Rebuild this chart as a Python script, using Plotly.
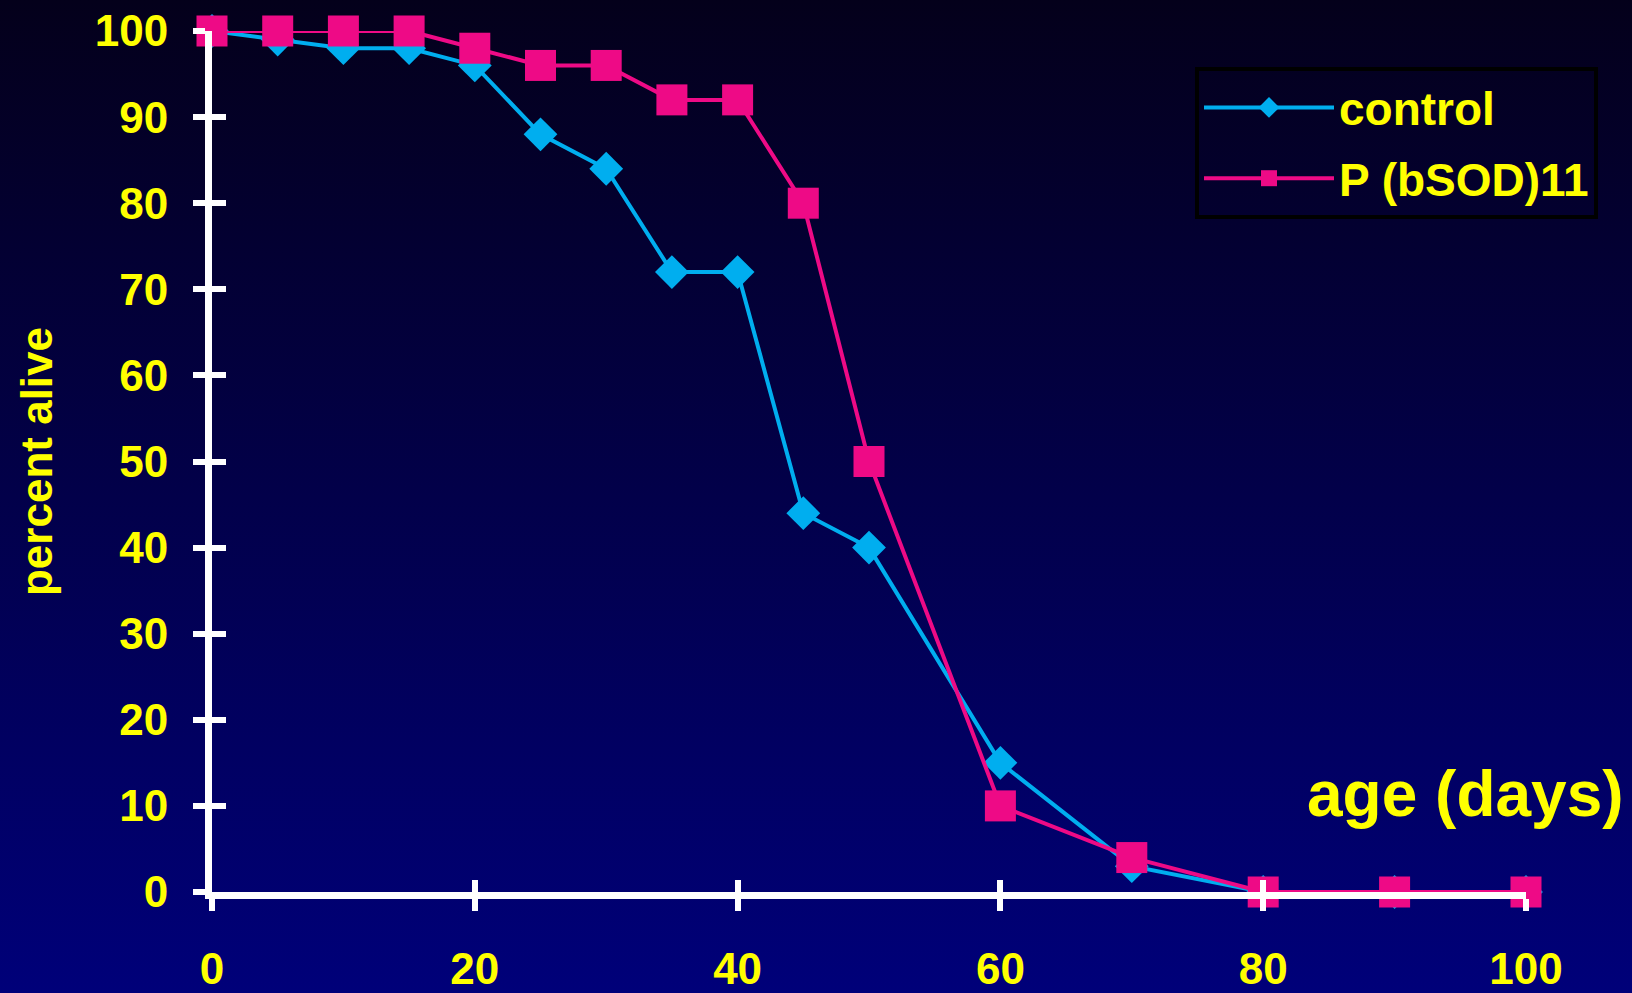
import base64
import plotly.graph_objects as go

# Survival data: percent of flies alive by age
age_days = [0, 5, 10, 15, 20, 25, 30, 35, 40, 45, 50, 60, 70, 80, 90, 100]
control = [100, 99, 98, 98, 96, 88, 84, 72, 72, 44, 40, 15, 3, 0, 0, 0]
p_bsod11 = [100, 100, 100, 100, 98, 96, 96, 92, 92, 80, 50, 10, 4, 0, 0, 0]

x_ticks = [0, 20, 40, 60, 80, 100]
y_ticks = [0, 10, 20, 30, 40, 50, 60, 70, 80, 90, 100]

W, H = 1632, 993
M_L, M_R, M_T, M_B = 212, 106, 31, 101
PW, PH = W - M_L - M_R, H - M_T - M_B

YELLOW = "#FFFF00"
CYAN = "#00AEEF"
PINK = "#EE0A86"
FONT = "Liberation Sans, Arial, sans-serif"

fig = go.Figure()

fig.add_trace(go.Scatter(
    x=age_days, y=control, name="control", mode="lines+markers",
    line=dict(color=CYAN, width=4),
    marker=dict(symbol="diamond", size=26, color=CYAN),
    cliponaxis=False, legendgroup="a",
))
fig.add_trace(go.Scatter(
    x=age_days, y=p_bsod11, name="P (bSOD)11", mode="lines+markers",
    line=dict(color=PINK, width=4),
    marker=dict(symbol="square", size=31, color=PINK),
    cliponaxis=False, legendgroup="b",
))
# empty trace that carries the overlay axes (inner half of the cross ticks)
fig.add_trace(go.Scatter(x=[], y=[], xaxis="x2", yaxis="y2", showlegend=False))

# dark-to-navy vertical gradient behind the whole figure
svg = (
    "<svg xmlns='http://www.w3.org/2000/svg' width='100' height='100' "
    "viewBox='0 0 100 100' preserveAspectRatio='none'>"
    "<defs><linearGradient id='g' x1='0' y1='0' x2='0' y2='1'>"
    "<stop offset='0' stop-color='#04001A'/>"
    "<stop offset='1' stop-color='#00007A'/>"
    "</linearGradient></defs>"
    "<rect width='100' height='100' fill='url(#g)'/></svg>"
)
bg_src = "data:image/svg+xml;base64," + base64.b64encode(svg.encode()).decode()
fig.add_layout_image(
    source=bg_src, xref="paper", yref="paper",
    x=-M_L / PW - 0.01, y=1 + M_T / PH + 0.01,
    sizex=W / PW + 0.02, sizey=H / PH + 0.02,
    xanchor="left", yanchor="top", sizing="stretch", layer="below",
)

tick_font = dict(family=FONT, size=44, color=YELLOW, weight="bold")

fig.update_layout(
    width=W, height=H,
    margin=dict(l=M_L, r=M_R, t=M_T, b=M_B, autoexpand=False),
    paper_bgcolor="#00004A",
    plot_bgcolor="rgba(0,0,0,0)",
    showlegend=True,
    legend=dict(
        x=(1195 - M_L) / PW, y=1 - (67 - M_T) / PH,
        xanchor="left", yanchor="top",
        bgcolor="rgba(0,0,0,0)", bordercolor="#000000", borderwidth=4,
        font=dict(family=FONT, size=46, color=YELLOW, weight="bold"),
        itemwidth=130, tracegroupgap=8,
    ),
    xaxis=dict(
        range=[0, 100], tickvals=x_ticks, ticktext=[str(v) for v in x_ticks],
        showgrid=False, zeroline=False, automargin=False,
        showline=True, linecolor="white", linewidth=7,
        ticks="outside", ticklen=12, tickwidth=6, tickcolor="white",
        ticklabelstandoff=20, tickfont=tick_font,
    ),
    yaxis=dict(
        range=[0, 100], tickvals=y_ticks, ticktext=[str(v) for v in y_ticks],
        showgrid=False, zeroline=False, automargin=False,
        showline=True, linecolor="white", linewidth=7,
        ticks="outside", ticklen=12, tickwidth=6, tickcolor="white",
        ticklabelstandoff=16, tickfont=tick_font,
        title=dict(text="percent alive", standoff=31,
                   font=dict(family=FONT, size=44, color=YELLOW, weight="bold")),
    ),
    xaxis2=dict(
        range=[0, 100], tickvals=x_ticks, overlaying="x", anchor="y", side="bottom",
        showgrid=False, zeroline=False, showline=False, showticklabels=False,
        automargin=False,
        ticks="inside", ticklen=12, tickwidth=6, tickcolor="white",
    ),
    yaxis2=dict(
        range=[0, 100], tickvals=y_ticks, overlaying="y", anchor="x", side="left",
        showgrid=False, zeroline=False, showline=False, showticklabels=False,
        automargin=False,
        ticks="inside", ticklen=14, tickwidth=6, tickcolor="white",
    ),
    annotations=[dict(
        text="age (days)", xref="paper", yref="paper",
        x=(1626 - M_L) / PW, y=(H - M_B - 794) / PH,
        xanchor="right", yanchor="middle", showarrow=False,
        font=dict(family=FONT, size=64, color=YELLOW, weight="bold"),
    )],
)

fig.write_html("out.html")
